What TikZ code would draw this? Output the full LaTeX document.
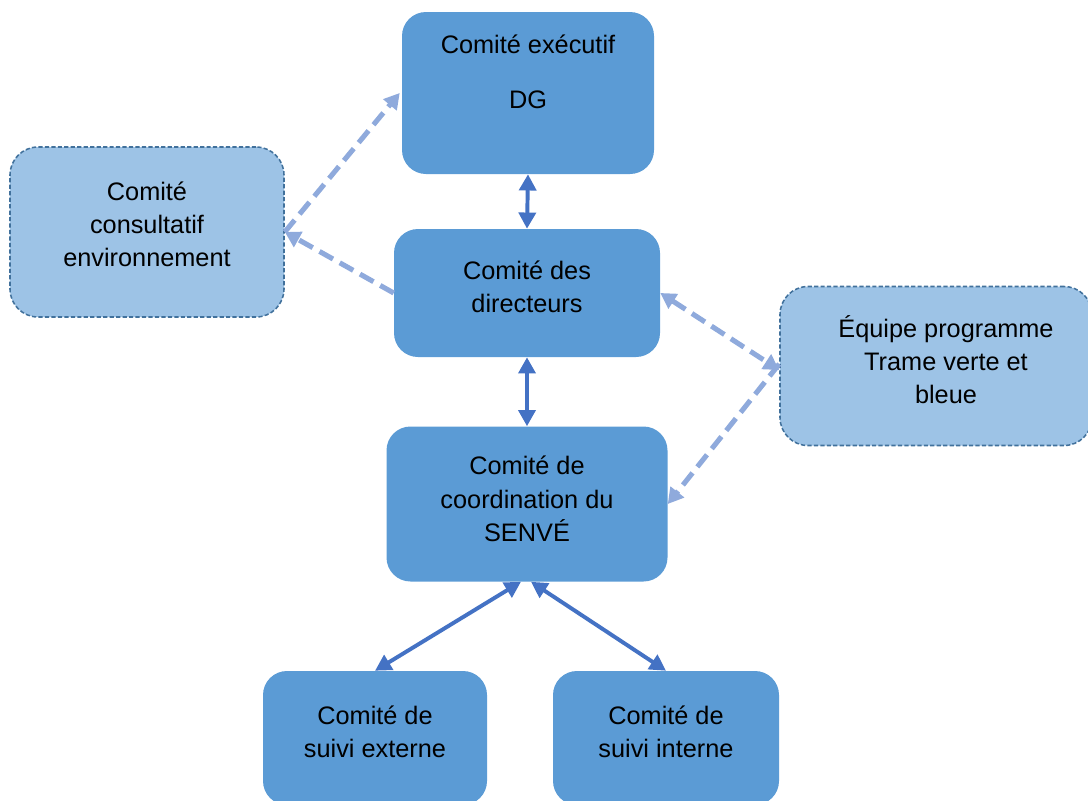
\documentclass[tikz,border=0pt]{standalone}
\usepackage{fontspec}
\setmainfont{Liberation Sans}
\usetikzlibrary{arrows.meta}
\definecolor{boxdark}{HTML}{5B9BD5}
\definecolor{boxlight}{HTML}{9DC3E6}
\definecolor{boxedge}{HTML}{41719C}
\definecolor{linkdark}{HTML}{4472C4}
\definecolor{linklight}{HTML}{8FAADC}
\begin{document}
\begin{tikzpicture}[x=0.25mm, y=-0.25mm,
  every node/.style={font=\fontsize{18}{23.5}\selectfont, align=center, text=black},
  mainbox/.style={fill=boxdark, draw=none, rounded corners=6mm},
  sidebox/.style={fill=boxlight, draw=boxedge, line width=1.1pt, dash pattern=on 3pt off 1.6pt, rounded corners=7mm},
  solidlink/.style={draw=linkdark, line width=2.8pt, {Triangle[length=11.5pt,width=12pt]}-{Triangle[length=11.5pt,width=12pt]}},
  dashlink/.style={draw=linklight, line width=3.6pt, dash pattern=on 11pt off 5.5pt, -{Triangle[length=11pt,width=12pt]}}]
  \useasboundingbox (0,0) rectangle (1088,800);
  \clip (0,0) rectangle (1088,800);

  % boxes
  \node[mainbox, minimum width=63mm, minimum height=40.5mm,
    label={[yshift=5.2mm]center:{Comité exécutif\\[5.5mm]DG}}] (exec) at (528,93) {};
  \node[sidebox, minimum width=68.5mm, minimum height=42.5mm,
    label={[yshift=2mm]center:{Comité\\consultatif\\environnement}}] (consult) at (147,232) {};
  \node[mainbox, minimum width=66.5mm, minimum height=32mm,
    label={[yshift=1.5mm]center:{Comité des\\directeurs}}] (dirs) at (527,293) {};
  \node[sidebox, minimum width=78mm, minimum height=39.75mm,
    label={[yshift=1.7mm, xshift=2.5mm]center:{Équipe programme\\Trame verte et\\bleue}}] (equipe) at (936,366) {};
  \node[mainbox, minimum width=70.25mm, minimum height=38.75mm,
    label={[yshift=1.3mm]center:{Comité de\\coordination du\\SENVÉ}}] (coord) at (527,504) {};
  \node[mainbox, minimum width=56mm, minimum height=33.5mm,
    label={[yshift=1.5mm]center:{Comité de\\suivi externe}}] (ext) at (375,738) {};
  \node[mainbox, minimum width=56.5mm, minimum height=33.5mm,
    label={[yshift=1.5mm]center:{Comité de\\suivi interne}}] (int) at (666,738) {};

  % links
  \draw[solidlink] (exec.south) -- (dirs.north);
  \draw[solidlink] (dirs.south) -- (coord.north);
  \draw[solidlink] ([xshift=-1.5mm]coord.south) -- (ext.north);
  \draw[solidlink] ([xshift=1mm]coord.south) -- (int.north);

  \draw[dashlink] (consult.east) -- ([xshift=-0.5mm]exec.west);
  \draw[dashlink] (dirs.west) -- (consult.east);
  \draw[dashlink, {Triangle[length=11pt,width=12pt]}-{Triangle[length=11pt,width=12pt]}] (dirs.east) -- ([yshift=-1mm]equipe.west);
  \draw[dashlink] ([yshift=0.5mm]equipe.west) -- (coord.east);
\end{tikzpicture}
\end{document}
